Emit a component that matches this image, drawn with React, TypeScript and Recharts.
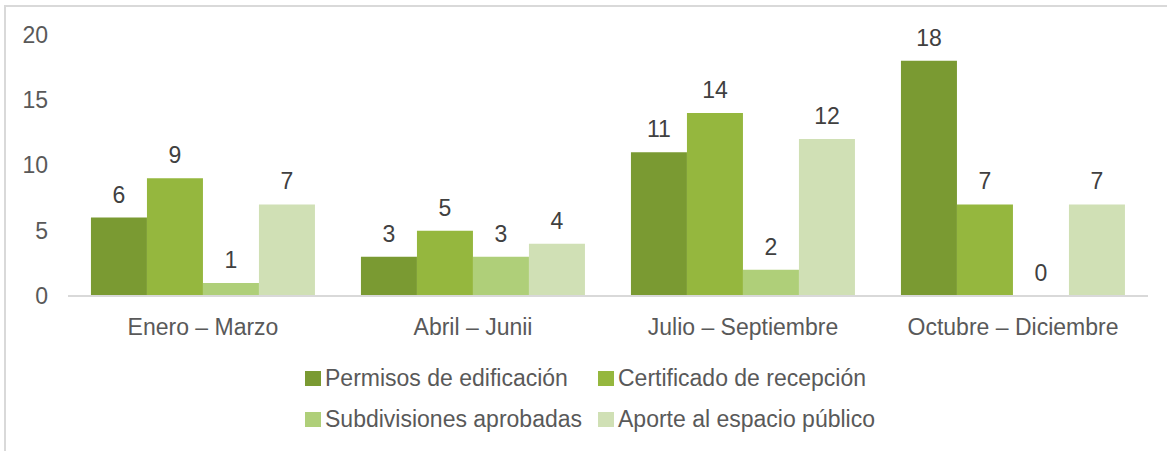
import React from 'react';
import { BarChart, Bar, XAxis, YAxis, Legend, LabelList } from 'recharts';

const quarters = ['Enero – Marzo', 'Abril – Junii', 'Julio – Septiembre', 'Octubre – Diciembre'];
const permisos = [6, 3, 11, 18];
const certificado = [9, 5, 14, 7];
const subdivisiones = [1, 3, 2, 0];
const aporte = [7, 4, 12, 7];
const yTicks = [0, 5, 10, 15, 20];

const series = [
  { key: 'permisos', name: 'Permisos de edificación', color: '#7a9a32' },
  { key: 'certificado', name: 'Certificado de recepción', color: '#95b73e' },
  { key: 'subdivisiones', name: 'Subdivisiones aprobadas', color: '#afcf79' },
  { key: 'aporte', name: 'Aporte al espacio público', color: '#d0e0b5' },
];

const data = quarters.map((q, i) => ({
  quarter: q,
  permisos: permisos[i],
  certificado: certificado[i],
  subdivisiones: subdivisiones[i],
  aporte: aporte[i],
}));

const FONT = '"Liberation Sans", Arial, sans-serif';

const LegendBox = () => (
  <div
    style={{
      position: 'absolute',
      left: 305,
      top: 358,
      display: 'grid',
      gridTemplateColumns: '293px auto',
      gridAutoRows: '41px',
      fontFamily: FONT,
      fontSize: 23,
      color: '#595959',
    }}
  >
    {series.map((s) => (
      <div key={s.key} style={{ display: 'flex', alignItems: 'center', whiteSpace: 'nowrap' }}>
        <span style={{ width: 16, height: 15, background: s.color, marginRight: 4, display: 'inline-block' }} />
        {s.name}
      </div>
    ))}
  </div>
);

const App: React.FC = () => (
  <div style={{ position: 'absolute', left: 0, top: 0, width: 1167, height: 451, overflow: 'hidden', background: '#fff' }}>
    <div
      style={{
        position: 'absolute',
        left: 4,
        top: 5,
        width: 1200,
        height: 500,
        borderLeft: '2px solid #d9d9d9',
        borderTop: '2px solid #d9d9d9',
      }}
    />
    <BarChart
      width={1167}
      height={451}
      data={data}
      margin={{ top: 34.5, right: 19, left: 0, bottom: 125 }}
      barCategoryGap="8.5%"
      barGap={0}
      style={{ position: 'absolute', left: 0, top: 0, fontFamily: FONT }}
    >
      <XAxis
        dataKey="quarter"
        height={30}
        tickLine={false}
        axisLine={{ stroke: '#d9d9d9', strokeWidth: 2 }}
        tickMargin={17}
        tick={{ fill: '#595959', fontSize: 23 }}
        interval={0}
      />
      <YAxis
        width={68}
        domain={[0, 20]}
        ticks={yTicks}
        tickLine={false}
        axisLine={false}
        tickMargin={14}
        tick={{ fill: '#595959', fontSize: 23 }}
      />
      <Legend
        layout="horizontal"
        verticalAlign="middle"
        align="center"
        content={() => <LegendBox />}
        wrapperStyle={{ left: 0, top: 0, width: 1, height: 1 }}
      />
      {series.map((s) => (
        <Bar
          key={s.key}
          dataKey={s.key}
          name={s.name}
          fill={s.color}
          minPointSize={0.5}
          isAnimationActive={false}
        >
          <LabelList dataKey={s.key} position="top" offset={15} fill="#404040" fontSize={23} />
        </Bar>
      ))}
    </BarChart>
  </div>
);

export default App;
